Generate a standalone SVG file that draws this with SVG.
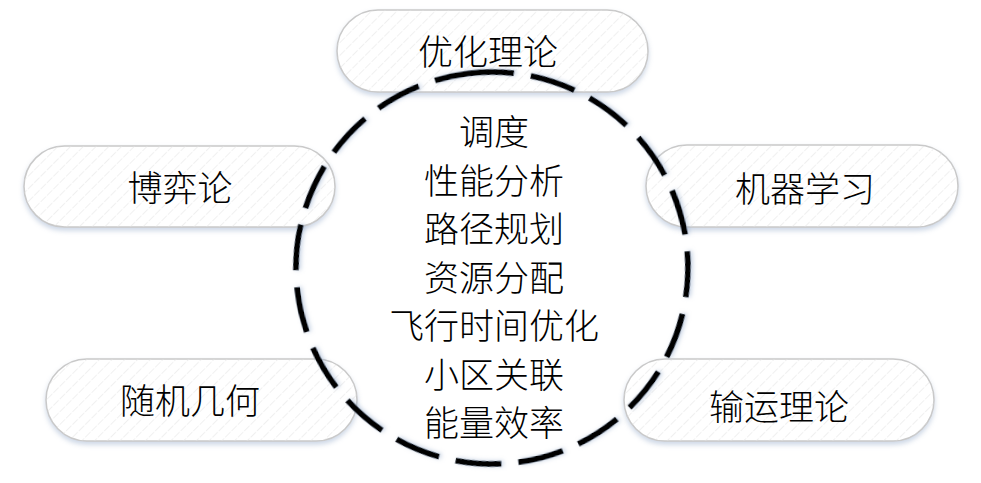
<svg xmlns="http://www.w3.org/2000/svg" width="981" height="483" viewBox="0 0 981 483">
<defs>
<pattern id="hatch" patternUnits="userSpaceOnUse" width="9" height="9" patternTransform="rotate(45)">
<line x1="0" y1="0" x2="0" y2="9" stroke="#e2e2e2" stroke-width="1" stroke-dasharray="6 1.5"/>
</pattern>
<filter id="sh" x="-10%" y="-20%" width="120%" height="150%">
<feDropShadow dx="0" dy="3" stdDeviation="2.5" flood-color="#8fa6c8" flood-opacity="0.45"/>
</filter>
<filter id="csh" x="-10%" y="-10%" width="120%" height="120%">
<feDropShadow dx="0" dy="2" stdDeviation="2" flood-color="#8fa6c8" flood-opacity="0.5"/>
</filter>
<style>
.pill{fill:#ffffff;stroke:#c9c9c9;stroke-width:1.5;filter:url(#sh)}
.hat{fill:url(#hatch);stroke:none}
.lbl{font-family:"Noto Sans CJK SC","Noto Sans CJK JP",sans-serif;font-size:35px;font-weight:300;fill:#000;text-anchor:middle;dominant-baseline:central}
.ring{fill:none;stroke:#000;stroke-width:5.75;stroke-dasharray:46 17;filter:url(#csh)}
</style>
</defs>
<rect width="981" height="483" fill="#ffffff"/>
<g id="node-youhua">
<rect class="pill" x="337" y="10" width="311" height="82" rx="41"/>
<rect class="hat" x="337" y="10" width="311" height="82" rx="41"/>
<text class="lbl" x="488" y="49">优化理论</text>
</g>
<g id="node-boyi">
<rect class="pill" x="24" y="146" width="311" height="81" rx="40.5"/>
<rect class="hat" x="24" y="146" width="311" height="81" rx="40.5"/>
<text class="lbl" x="180" y="185">博弈论</text>
</g>
<g id="node-jiqi">
<rect class="pill" x="646" y="145" width="312" height="82" rx="41"/>
<rect class="hat" x="646" y="145" width="312" height="82" rx="41"/>
<text class="lbl" x="805" y="186">机器学习</text>
</g>
<g id="node-suiji">
<rect class="pill" x="46" y="359" width="311" height="82" rx="41"/>
<rect class="hat" x="46" y="359" width="311" height="82" rx="41"/>
<text class="lbl" x="190" y="398">随机几何</text>
</g>
<g id="node-shuyun">
<rect class="pill" x="624" y="359" width="310" height="82" rx="41"/>
<rect class="hat" x="624" y="359" width="310" height="82" rx="41"/>
<text class="lbl" x="779" y="404">输运理论</text>
</g>
<g id="connectors">
<circle class="ring" cx="492" cy="268" r="196" transform="rotate(-97 492 268)"/>
</g>
<g id="node-center">
<text class="lbl" x="494" y="129">调度</text>
<text class="lbl" x="494" y="178">性能分析</text>
<text class="lbl" x="494" y="226">路径规划</text>
<text class="lbl" x="494" y="275">资源分配</text>
<text class="lbl" x="494" y="323">飞行时间优化</text>
<text class="lbl" x="494" y="372">小区关联</text>
<text class="lbl" x="494" y="420">能量效率</text>
</g>
</svg>
